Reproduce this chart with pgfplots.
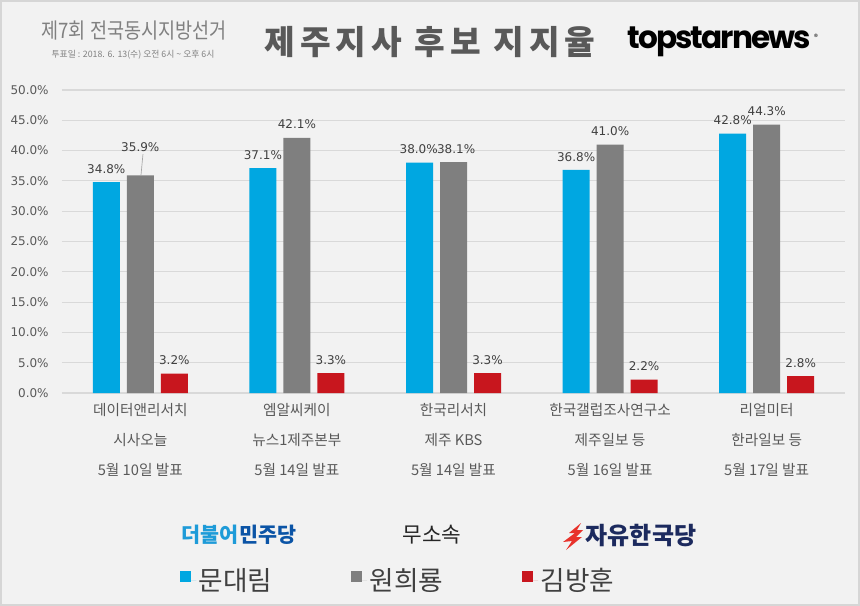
\documentclass[border=0pt]{standalone}
\usepackage{pgfplots}
\pgfplotsset{compat=1.18}
\usepackage{fontspec}
\usepackage{graphicx}
\setmainfont{Noto Sans CJK KR}
\newfontfamily\dv{DejaVu Sans}
\newfontfamily\pop{Poppins}
\definecolor{bg}{HTML}{F2F2F2}
\definecolor{framec}{HTML}{D6D6D6}
\definecolor{cblue}{HTML}{00A7E1}
\definecolor{cgray}{HTML}{7F7F7F}
\definecolor{cred}{HTML}{C8161E}
\definecolor{gridc}{HTML}{D9D9D9}
\definecolor{txt}{HTML}{595959}
\definecolor{lbl}{HTML}{404040}
\definecolor{tgray}{HTML}{808080}
\definecolor{dpblue1}{HTML}{1E9BD8}
\definecolor{dpblue2}{HTML}{0B54A6}
\definecolor{lkpnavy}{HTML}{1C2A5E}
\definecolor{flame}{HTML}{E8322B}
\begin{document}
\begin{tikzpicture}
\begin{scope}[x=0.75pt,y=-0.75pt]
\path[use as bounding box] (0,0) rectangle (860,606);
\fill[bg] (0,0) rectangle (860,606);
\draw[framec, line width=1.2pt] (1,1) rectangle (859,605);
\end{scope}
\begin{axis}[
  at={(46.5pt,-294.75pt)}, anchor=south west,
  scale only axis, width=587.25pt, height=227.25pt,
  xmin=-0.5, xmax=4.5, ymin=0, ymax=50,
  ybar=5.25pt, bar width=20.25pt,
  axis line style={draw=none},
  major tick length=0pt,
  ymajorgrids, grid style={draw=gridc, line width=0.8pt},
  ytick={0,5,...,50},
  /pgf/number format/assume math mode=true,
  yticklabel={\pgfmathprintnumber[fixed,fixed zerofill,precision=1]{\tick}\%},
  yticklabel style={font=\dv\fontsize{9}{10}\selectfont, text=txt, xshift=-6.5pt},
  xtick={0,1,2,3,4},
  xticklabels={{데이터앤리서치\\시사오늘\\5월 10일 발표},{엠알씨케이\\뉴스1제주본부\\5월 14일 발표},{한국리서치\\제주 KBS\\5월 14일 발표},{한국갤럽조사연구소\\제주일보 등\\5월 16일 발표},{리얼미터\\한라일보 등\\5월 17일 발표}},
  xticklabel style={font=\fontsize{11}{22.5}\selectfont, text=txt, align=center, yshift=-4.5pt},
  nodes near coords={\pgfmathprintnumber[fixed,fixed zerofill,precision=1]{\pgfplotspointmeta}\%},
  every node near coord/.append style={font=\dv\fontsize{9}{10}\selectfont, text=lbl, yshift=3pt, inner xsep=0pt},
  legend style={draw=none, fill=none, inner sep=0pt, at={(0.1507,-0.6172)}, anchor=west,
    font=\fontsize{20}{22}\selectfont, text=lbl,
    /tikz/every even column/.append style={column sep=57pt}},
  legend columns=3, legend cell align=left,
  legend image code/.code={\fill[#1] (0pt,-1.5pt) rectangle (8.25pt,6.75pt); \path (0pt,0pt) -- (12pt,0pt);},
]
\addplot[fill=cblue, draw=none,
  visualization depends on={value \thisrow{dx} \as \dx},
  every node near coord/.append style={xshift=\dx pt}] table[x=x,y=y] {
x y dx
0 34.8 0
1 37.1 0
2 38.0 -0.6
3 36.8 0
4 42.8 0
};
\addlegendentry{문대림}
\addplot[fill=cgray, draw=none,
  visualization depends on={value \thisrow{dy} \as \dy},
  visualization depends on={value \thisrow{dx} \as \dx},
  every node near coord/.append style={yshift=\dy pt, xshift=\dx pt}] table[x=x,y=y] {
x y dy dx
0 35.9 11.25 0
1 42.1 0 0
2 38.1 0 2
3 41.0 0 0
4 44.3 0 0
};
\addlegendentry{원희룡}
\addplot[fill=cred, draw=none] table[x=x,y=y] {
x y
0 3.2
1 3.3
2 3.3
3 2.2
4 2.8
};
\addlegendentry{김방훈}
\draw[gray!70, line width=0.5pt] (axis cs:0,35.9) ++(0.5pt,0pt) -- ++(1.5pt,16pt);
\end{axis}
\begin{scope}[x=0.75pt,y=-0.75pt]
\node[text=tgray, font=\fontsize{16}{18}\selectfont\addfontfeature{FakeStretch=0.87}] at (134,31) {제7회 전국동시지방선거};
\node[text=tgray, font=\fontsize{6.6}{8}\selectfont] at (133,55) {투표일 : 2018. 6. 13(수) 오전 6시 \textasciitilde{} 오후 6시};
\node[text=txt, font=\bfseries\fontsize{25}{27}\selectfont\addfontfeature{LetterSpace=15}] at (430,42) {제주지사 후보 지지율};
\node[anchor=west, inner sep=0pt] at (627,42) {\resizebox*{138pt}{22.5pt}{\pop\bfseries\addfontfeature{LetterSpace=-6}topstarnews}};
\node[inner sep=0pt, font=\fontsize{6}{7}\selectfont] at (816,37) {\textregistered};
\node[font=\bfseries\fontsize{15.5}{17}\selectfont] at (239,535) {\textcolor{dpblue1}{더불어}\textcolor{dpblue2}{민주당}};
\node[text=black!85, font=\fontsize{16}{18}\selectfont] at (432,535) {무소속};
\fill[flame] (581,523) -- (569,533) -- (575,533) -- (563,542) -- (572,541) -- (566,550) -- (582,537) -- (576,537) -- (583,530) -- (577,530) -- cycle;
\node[text=lkpnavy, font=\bfseries\fontsize{18}{20}\selectfont] at (641,536) {자유한국당};
\end{scope}
\end{tikzpicture}
\end{document}
